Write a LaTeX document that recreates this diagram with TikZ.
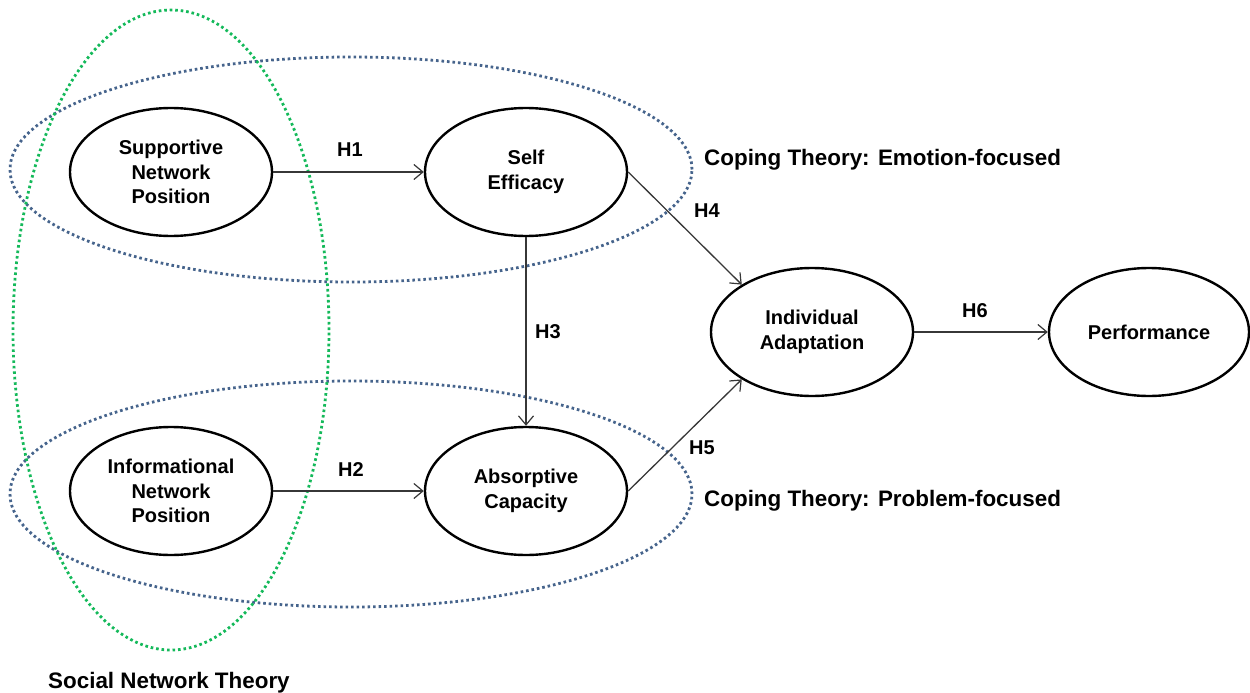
\documentclass[tikz,border=0pt]{standalone}
\usepackage{fontspec}
\setmainfont{Liberation Sans}
\usetikzlibrary{arrows.meta,shapes.geometric}
\definecolor{dotblue}{RGB}{70,100,140}
\definecolor{dotgreen}{RGB}{20,185,90}
\definecolor{arrgray}{RGB}{55,55,55}
\tikzset{
  construct/.style={draw=black, line width=2.4pt, fill=white, ellipse, minimum width=202pt, minimum height=128pt, inner sep=0pt, align=center, font=\bfseries\fontsize{20}{24.5}\selectfont},
  link/.style={draw=arrgray, line width=1.3pt, -{Straight Barb[length=9pt,width=15pt,line width=1.2pt]}},
  hlabel/.style={font=\bfseries\fontsize{20}{24}\selectfont, inner sep=0pt},
  theory/.style={font=\bfseries\fontsize{22.4}{26}\selectfont, inner sep=0pt, anchor=west},
  bluedots/.style={draw=dotblue, line width=2.8pt, dash pattern=on 2.6pt off 2.9pt},
  greendots/.style={draw=dotgreen, line width=2.8pt, dash pattern=on 2.6pt off 2.9pt}
}
\begin{document}
\begin{tikzpicture}[x=1pt,y=-1pt]
\useasboundingbox (0,0) rectangle (1250,693);
% theory groupings
\draw[bluedots] (351,169.5) ellipse [x radius=341pt, y radius=112.5pt];
\draw[bluedots] (351,494) ellipse [x radius=341pt, y radius=113pt];
\draw[greendots] (171,330) ellipse [x radius=158pt, y radius=320pt];
% constructs
\node[construct] (snp) at (171,172) {Supportive\\Network\\Position};
\node[construct] (se) at (526,172) {Self\\Efficacy};
\node[construct] (inp) at (171,491) {Informational\\Network\\Position};
\node[construct] (ac) at (526,491) {Absorptive\\Capacity};
\node[construct] (ia) at (812,332) {Individual\\Adaptation};
\node[construct, minimum width=200pt] (perf) at (1149,332) {Performance};
% paths
\draw[link] (snp.east) -- (se.west);
\draw[link] (inp.east) -- (ac.west);
\draw[link] (se.south) -- (ac.north);
\draw[link] (se.east) -- (ia.146);
\draw[link] (ac.east) -- (ia.-146);
\draw[link] (ia.east) -- (perf.west);
% hypothesis labels
\node[hlabel] (h1) at (350,150) {H1};
\node[hlabel] (h2) at (351,470) {H2};
\node[hlabel] (h3) at (548,332) {H3};
\node[hlabel] (h4) at (707,211) {H4};
\node[hlabel] (h5) at (702,448) {H5};
\node[hlabel] (h6) at (975,311) {H6};
% theory labels
\node[theory] (emo) at (704,160) {Coping Theory: Emotion-focused};
\node[theory] (prob) at (704,501) {Coping Theory: Problem-focused};
\node[theory] (snt) at (48,683) {Social Network Theory};
\end{tikzpicture}
\end{document}
